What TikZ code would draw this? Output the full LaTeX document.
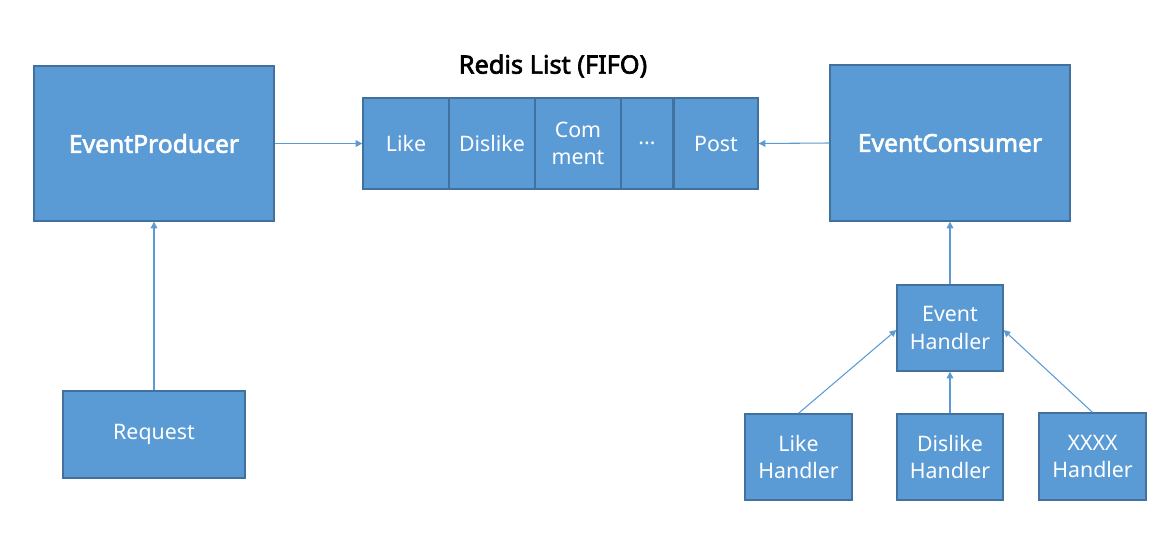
\documentclass[tikz,border=0pt]{standalone}
\usepackage{fontspec}
\setmainfont{Noto Sans}[BoldFont={Noto Sans}, BoldFeatures={FakeBold=2.5}]
\usetikzlibrary{arrows.meta}
\definecolor{boxfill}{HTML}{5B9BD5}
\definecolor{boxline}{HTML}{41719C}
\tikzset{
  box/.style={draw=boxline, fill=boxfill, line width=1pt, text=white, align=center,
    inner sep=0pt, font=\fontsize{16}{20.5}\selectfont},
  bigbox/.style={box, font=\bfseries\fontsize{18.5}{22}\selectfont},
  conn/.style={draw=boxfill, line width=0.8pt, -{Triangle[length=5pt,width=5pt]}},
}
\begin{document}
\begin{tikzpicture}[x=0.75pt,y=-0.75pt]
\useasboundingbox (0,0) rectangle (1160,533);
\node[bigbox, minimum width=180pt, minimum height=116.25pt] (ep) at (154,143.5) {EventProducer};
\node[box, minimum width=136.5pt, minimum height=65.25pt] (req) at (154,434.5) {\raisebox{-2pt}{Request}};
\node[box, minimum width=64.5pt, minimum height=68.25pt] (like) at (406,143.5) {\raisebox{-1.5pt}{Like}};
\node[box, minimum width=64.5pt, minimum height=68.25pt] (dislike) at (492,143.5) {\raisebox{-1.5pt}{Dislike}};
\node[box, minimum width=64.5pt, minimum height=68.25pt] (comment) at (578,143.5) {Com\\ment};
\node[box, minimum width=39pt, minimum height=68.25pt] (dots) at (647,143.5) {\raisebox{-1.5pt}{...}};
\node[box, minimum width=63pt, minimum height=68.25pt] (post) at (716,143.5) {\raisebox{-1.5pt}{Post}};
\node[font=\bfseries\fontsize{19}{22}\selectfont] (title) at (553,66) {Redis List (FIFO)};
\node[bigbox, minimum width=180pt, minimum height=117pt] (ec) at (950,143) {EventConsumer};
\node[box, minimum width=79.5pt, minimum height=64.5pt] (eh) at (950,328) {Event\\Handler};
\node[box, minimum width=80.25pt, minimum height=64.5pt] (lh) at (798.5,457) {Like\\Handler};
\node[box, minimum width=79.5pt, minimum height=64.5pt] (dh) at (950,457) {Dislike\\Handler};
\node[box, minimum width=80.25pt, minimum height=65.25pt] (xh) at (1092.5,456.5) {XXXX\\Handler};
\draw[conn] (req.north) -- (ep.south);
\draw[conn] (ep.east) -- (like.west);
\draw[conn] (ec.west) -- (post.east);
\draw[conn] (eh.north) -- (ec.south);
\draw[conn] (dh.north) -- (eh.south);
\draw[conn] (lh.north) -- ([yshift=-1.5pt]eh.west);
\draw[conn] (xh.north) -- ([yshift=-1.5pt]eh.east);
\end{tikzpicture}
\end{document}
